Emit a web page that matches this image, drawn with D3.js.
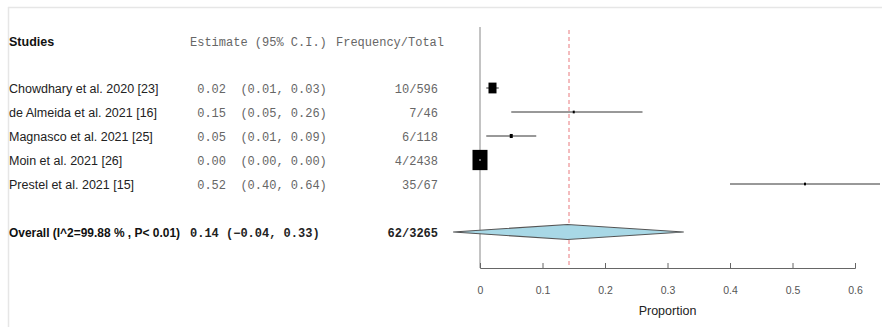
<!DOCTYPE html>
<html>
<head>
<meta charset="utf-8">
<script src="https://cdn.jsdelivr.net/npm/d3@7"></script>
<style>
  body { margin: 0; background: #fff; }
  svg { display: block; }
  .lab { font-family: "Liberation Sans", Arial, sans-serif; font-size: 12.5px; fill: #222; }
  .mono { font-family: "Liberation Mono", "Courier New", monospace; font-size: 12px; fill: #666; }
  .tick text { font-family: "Liberation Sans", Arial, sans-serif; font-size: 10.5px; fill: #555; }
</style>
</head>
<body>
<svg id="chart" width="882" height="327"></svg>
<script>
var studies = ["Chowdhary et al. 2020 [23]", "de Almeida et al. 2021 [16]", "Magnasco et al. 2021 [25]",
               "Moin et al. 2021 [26]", "Prestel et al. 2021 [15]"];
var estimate = [0.02, 0.15, 0.05, 0.00, 0.52];
var lower = [0.01, 0.05, 0.01, 0.00, 0.40];
var upper = [0.03, 0.26, 0.09, 0.00, 0.64];
var freq = ["10/596", "7/46", "6/118", "4/2438", "35/67"];
var weights = [8, 2, 3, 15, 2];

var overallLabel = "Overall (I^2=99.88 % , P< 0.01)";
var overall = { est: 0.14, lo: -0.043, hi: 0.326, freq: "62/3265" };
var summaryLine = 0.1424;
var ticks = [0, 0.1, 0.2, 0.3, 0.4, 0.5, 0.6];

var svg = d3.select("#chart");

// faint frame around the picture
svg.append("line").attr("x1", 8).attr("x2", 882).attr("y1", 7.5).attr("y2", 7.5)
  .attr("stroke", "#e6e6e6").attr("stroke-width", 1.5);
svg.append("line").attr("x1", 8.5).attr("x2", 8.5).attr("y1", 7).attr("y2", 327)
  .attr("stroke", "#e6e6e6").attr("stroke-width", 1.5);

var x = d3.scaleLinear().domain([0, 0.6]).range([480, 855]);
var y = d3.scaleLinear().domain([0, 1]).range([88, 112]);
var fmt = d3.format(".2f");

// header
var hy = y(-1.9) + 4;
svg.append("text").attr("class", "lab").attr("x", 9).attr("y", hy)
  .attr("font-weight", "bold").style("fill", "#111").text("Studies");
svg.append("text").attr("class", "mono").attr("x", 190).attr("y", hy)
  .attr("xml:space", "preserve").text("Estimate (95% C.I.)");
svg.append("text").attr("class", "mono").attr("x", 336).attr("y", hy)
  .text("Frequency/Total");

// study rows text
studies.forEach(function(s, i) {
  var ty = y(i) + 4.5;
  svg.append("text").attr("class", "lab").attr("x", 9).attr("y", ty).text(s);
  svg.append("text").attr("class", "mono").attr("x", 190).attr("y", ty)
    .attr("xml:space", "preserve")
    .text(" " + fmt(estimate[i]) + "  (" + fmt(lower[i]) + ", " + fmt(upper[i]) + ")");
  svg.append("text").attr("class", "mono").attr("x", 438).attr("y", ty)
    .attr("text-anchor", "end").text(freq[i]);
});

// overall row text
var oy = y(6) + 4.5;
svg.append("text").attr("class", "lab").attr("x", 9).attr("y", oy)
  .attr("font-weight", "bold").style("fill", "#111")
  .attr("textLength", 171).attr("lengthAdjust", "spacingAndGlyphs").text(overallLabel);
svg.append("text").attr("class", "mono").attr("x", 190).attr("y", oy)
  .attr("font-weight", "bold").style("fill", "#222").attr("xml:space", "preserve")
  .text(fmt(overall.est) + " (" + fmt(overall.lo) + ", " + fmt(overall.hi) + ")");
svg.append("text").attr("class", "mono").attr("x", 438).attr("y", oy)
  .attr("font-weight", "bold").style("fill", "#222").attr("text-anchor", "end").text(overall.freq);

// vertical no-effect line
svg.append("line").attr("x1", x(0)).attr("x2", x(0)).attr("y1", 27).attr("y2", 268)
  .attr("stroke", "#888").attr("stroke-width", 1);

// summary dashed line
svg.append("line").attr("x1", x(summaryLine)).attr("x2", x(summaryLine)).attr("y1", 30).attr("y2", 268)
  .attr("stroke", "#e8797c").attr("stroke-width", 1).attr("stroke-dasharray", "4,3");

// CIs and boxes
var g = svg.append("g");
studies.forEach(function(s, i) {
  g.append("line").attr("x1", x(lower[i])).attr("x2", x(upper[i]))
    .attr("y1", y(i)).attr("y2", y(i)).attr("stroke", "#333").attr("stroke-width", 1);
  var w = weights[i], h = w * 1.35;
  g.append("rect").attr("x", x(estimate[i]) - w / 2).attr("y", y(i) - h / 2)
    .attr("width", w).attr("height", h).attr("fill", "#000");
  if (lower[i] === upper[i]) {
    g.append("line").attr("x1", x(lower[i]) - 1).attr("x2", x(upper[i]) + 1)
      .attr("y1", y(i)).attr("y2", y(i)).attr("stroke", "#ddd").attr("stroke-width", 1);
  }
});

// diamond
var dh = 7.5;
svg.append("path")
  .attr("d", "M" + x(overall.lo) + "," + y(6) + "L" + x(overall.est) + "," + (y(6) - dh) +
             "L" + x(overall.hi) + "," + y(6) + "L" + x(overall.est) + "," + (y(6) + dh) + "Z")
  .attr("fill", "#a8d8e6").attr("stroke", "#555").attr("stroke-width", 1.2);

// x axis
var axis = svg.append("g").attr("transform", "translate(0,268)")
  .call(d3.axisBottom(x).tickValues(ticks).tickSize(-5).tickPadding(19)
    .tickFormat(function(d) { return d === 0 ? "0" : d3.format(".1f")(d); }));
axis.select(".domain").attr("stroke", "#666");
axis.selectAll(".tick line").attr("stroke", "#666");

svg.append("text").attr("x", x(0.3)).attr("y", 315).attr("text-anchor", "middle")
  .attr("font-family", "Liberation Sans, Arial, sans-serif").attr("font-size", "12.5px")
  .attr("fill", "#222").text("Proportion");
</script>
</body>
</html>
